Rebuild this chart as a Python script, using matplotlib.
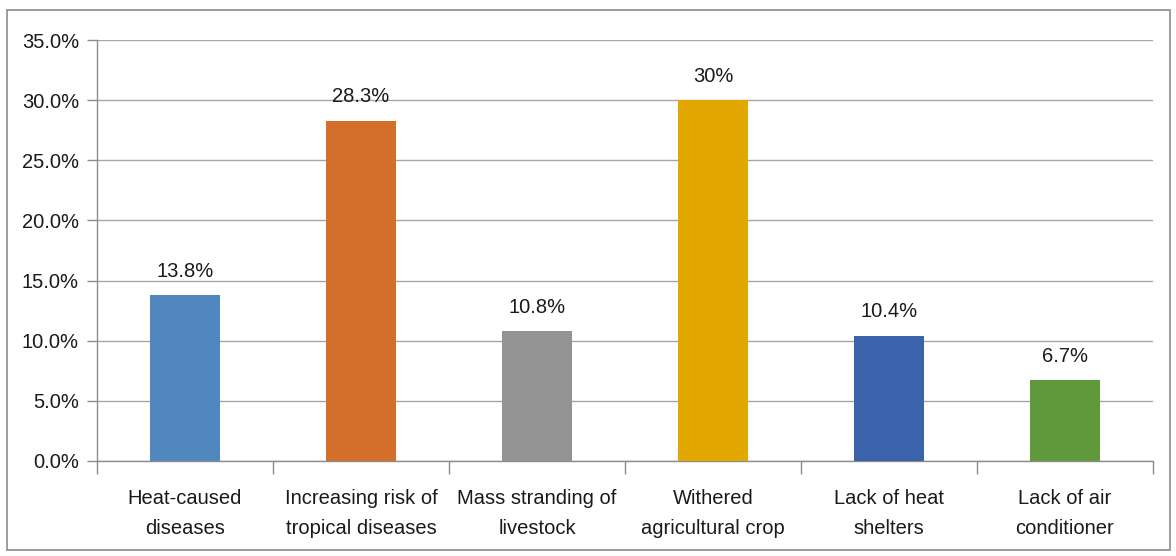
import matplotlib
matplotlib.use("Agg")
import matplotlib.pyplot as plt
from matplotlib.ticker import FixedLocator, FuncFormatter
from matplotlib.patches import Rectangle

categories = ["Heat-caused\ndiseases", "Increasing risk of\ntropical diseases", "Mass stranding of\nlivestock",
              "Withered\nagricultural crop", "Lack of heat\nshelters", "Lack of air\nconditioner"]
values = [13.8, 28.3, 10.8, 30.0, 10.4, 6.7]
labels = ["13.8%", "28.3%", "10.8%", "30%", "10.4%", "6.7%"]
colors = ["#4F87BE", "#D36E2B", "#939393", "#E3A800", "#3B63AC", "#5F993B"]
yticks = [0, 5, 10, 15, 20, 25, 30, 35]

plt.rcParams['font.family'] = ['Liberation Sans', 'DejaVu Sans']

fig = plt.figure(figsize=(11.76, 5.56), dpi=100)
fig.patches.append(Rectangle((7/1176, 6/556), 1163/1176, 540/556, transform=fig.transFigure,
                             fill=False, edgecolor="#8C8C8C", linewidth=1.2))
ax = fig.add_axes([97/1176, 1 - 461/556, 1056/1176, 421/556])

x = list(range(len(categories)))
ax.bar(x, values, width=0.4, color=colors, zorder=3)
for xi, v, lab in zip(x, values, labels):
    ax.text(xi, v + 1.2, lab, ha="center", va="bottom", fontsize=14.5, color="#1A1A1A")

ax.set_xlim(-0.5, len(categories) - 0.5)
ax.set_ylim(0, 35)
ax.yaxis.set_major_locator(FixedLocator(yticks))
ax.yaxis.set_major_formatter(FuncFormatter(lambda v, p: f"{v:.1f}%"))
ax.grid(axis="y", color="#A6A6A6", linewidth=1.0, zorder=0)
ax.set_axisbelow(True)

ax.set_xticks(x)
ax.set_xticklabels(categories, fontsize=14.5, color="#1A1A1A", linespacing=1.75)
ax.tick_params(axis="x", length=0, pad=20)
ax.set_xticks([i - 0.5 for i in range(len(categories) + 1)], minor=True)
ax.tick_params(axis="x", which="minor", length=9, color="#8C8C8C", width=1.0)
ax.tick_params(axis="y", labelsize=14.5, labelcolor="#1A1A1A", length=7, color="#8C8C8C", width=1.0, pad=6)

for s in ["top", "right"]:
    ax.spines[s].set_visible(False)
for s in ["left", "bottom"]:
    ax.spines[s].set_color("#8C8C8C")
    ax.spines[s].set_linewidth(1.0)

fig.savefig("out.png", dpi=100)
